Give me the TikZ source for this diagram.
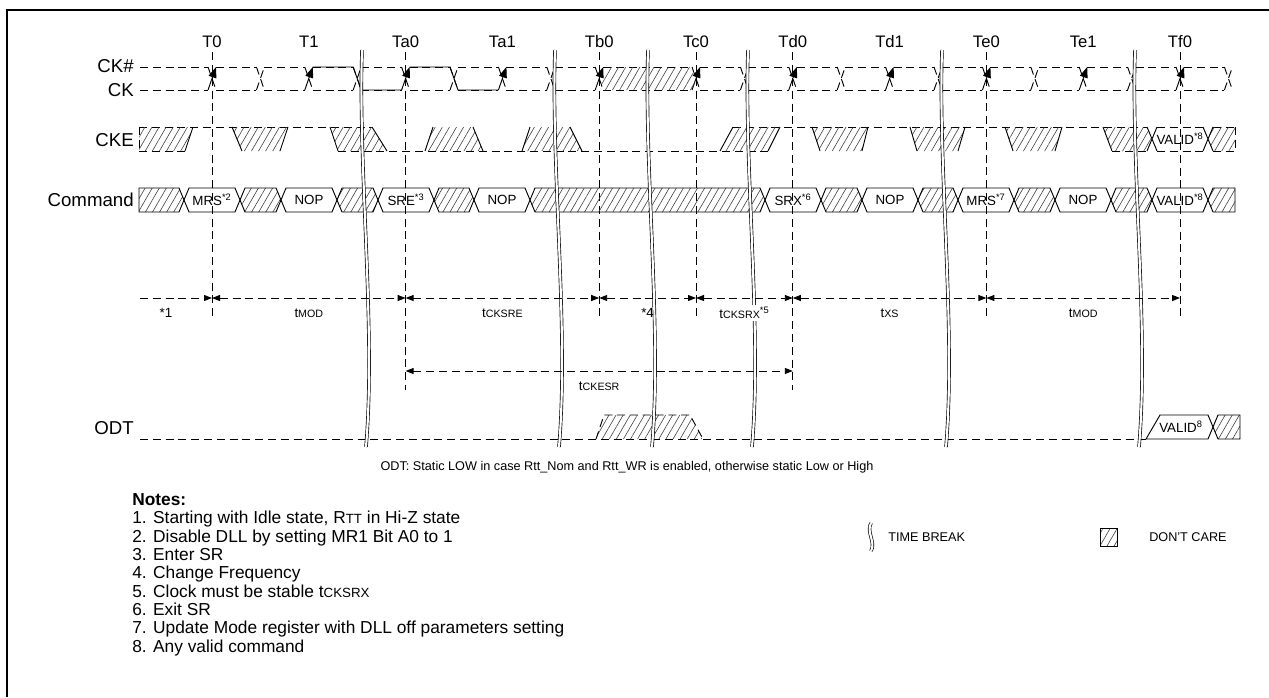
\documentclass[tikz,border=0pt]{standalone}
\usepackage{fontspec}
\setmainfont{Liberation Sans}
\usetikzlibrary{positioning,arrows.meta,patterns.meta}

\tikzstyle{wave} = [line width=0.7pt, dash pattern=on 6pt off 3.6pt]
\tikzstyle{edgeln} = [line width=0.7pt]
\tikzstyle{hatch} = [pattern={Lines[angle=60,distance=4.6pt,line width=0.45pt]}, pattern color=black!75]
\tikzstyle{guide} = [line width=0.7pt, dash pattern=on 6pt off 3.6pt]
\tikzstyle{dimline} = [line width=0.7pt, dash pattern=on 6pt off 3.6pt]
\tikzstyle{tbreak} = [line width=0.5pt, double, double distance=1.6pt]
\tikzstyle{timelbl} = [inner sep=0pt, font=\fontsize{12.5}{14}\selectfont]
\tikzstyle{siglbl} = [inner sep=0pt, anchor=east, font=\fontsize{14}{16}\selectfont]
\tikzstyle{celltxt} = [inner sep=0pt, font=\fontsize{10}{12}\selectfont]
\tikzstyle{dimtxt} = [inner sep=1.5pt, font=\fontsize{10}{12}\selectfont]
\tikzstyle{notetxt} = [inner sep=0pt, anchor=north west, text height=9.5pt, text depth=3pt, font=\fontsize{13}{14}\selectfont]
\tikzstyle{smalltxt} = [inner sep=0pt, font=\fontsize{9.5}{11}\selectfont]

\newcommand{\tpar}[2][8]{t{\fontsize{#1}{#1}\selectfont #2}}

\begin{document}
\begin{tikzpicture}[x=0.75pt, y=-0.75pt, >={Triangle[length=6pt,width=4.5pt]}]
\useasboundingbox (0,0) rectangle (1269,697);

% frame
\draw[line width=2.2pt] (7,697) -- (7,10) -- (1269,10);

% clock edges and guides
\foreach \n/\x in {T0/212, T1/308.8, Ta0/405.6, Ta1/502.4, Tb0/599.2, Tc0/696, Td0/792.8, Td1/889.6, Te0/986.4, Te1/1083.2, Tf0/1180}
  \node[timelbl] (\n) at (\x,42) {\n};
\foreach \n/\x/\yy in {T0/212/319, Ta0/405.6/390, Tb0/599.2/319, Tc0/696/319, Td0/792.8/390, Te0/986.4/319, Tf0/1180/319} {
  \coordinate (\n-end) at (\x,\yy);
  \coordinate (\n-d) at (\x,298);
  \draw[guide, shorten <=3pt] (\n.south) -- (\n-end);
}

% signal names
\node[siglbl] (ckn) at (134,66) {CK\#};
\node[siglbl] (ck) at (134,90) {CK};
\node[siglbl] (cke) at (134,140) {CKE};
\node[siglbl] (cmd) at (134,200) {Command};
\node[siglbl] (odt) at (134,428) {ODT};

% CK# / CK
\foreach \a/\b in {140/208, 216/256.4, 264.4/304.8, 312.8/353.2, 361.2/401.6, 409.6/450, 458/498.4, 506.4/546.8, 554.8/595.2, 603.2/692, 700/740.4, 748.4/788.8, 796.8/837.2, 845.2/885.6, 893.6/934, 942/982.4, 990.4/1030.8, 1038.8/1079.2, 1087.2/1127.6, 1135.6/1176, 1184/1224.4}
  \draw[wave] (\a,67) -- (\b,67) (\a,90) -- (\b,90);
\foreach \c in {260.4, 357.2, 454, 550.8, 744.4, 841.2, 938, 1034.8, 1131.6, 1228.4}
  \draw[wave] (\c-4,67) -- (\c+4,90) (\c-4,90) -- (\c+4,67);
\foreach \c in {212, 308.8, 405.6, 502.4, 599.2, 696, 792.8, 889.6, 986.4, 1083.2, 1180} {
  \draw[wave] (\c-4,67) -- (\c+4,90);
  \draw[edgeln, -{Triangle[length=8pt,width=6pt]}] (\c-4,90) -- (\c+4,67);
}
\draw[edgeln] (312.8,67) -- (353.2,67) -- (361.2,90) -- (401.6,90) (409.6,67) -- (450,67) -- (458,90) -- (498.4,90);
\path[hatch] (601,90) -- (605,67) -- (692,67) -- (696,90) -- cycle;

% CKE
\draw[wave] (139,127) -- (372,127) (733,127) -- (1147,127) (1157,127) -- (1203,127) (1213,127) -- (1235,127);
\draw[wave] (139,151) -- (185,151) (338,151) -- (768,151) (1112,151) -- (1147,151) (1157,151) -- (1203,151) (1213,151) -- (1235,151);
\draw[wave] (139,127) -- (139,151) (1235,127) -- (1235,151);
\foreach \tl/\tr/\br/\bl in {139/193/185/139, 232/288/280/242, 330/372/387/338, 433/473/483/425, 530/570/582/522, 733/780/768/720, 812/868/862/820, 910/965/958/917, 1005/1062/1055/1013} {
  \path[hatch] (\tl,127) -- (\tr,127) -- (\br,151) -- (\bl,151) -- cycle;
  \draw[edgeln] (\tr,127) -- (\br,151);
}
\foreach \tl/\bl in {232/242, 330/338, 433/425, 530/522, 733/720, 812/820, 910/917, 1005/1013, 1103/1112}
  \draw[edgeln] (\tl,127) -- (\bl,151);
\path[hatch] (1103,127) -- (1147,127) -- (1152,139) -- (1147,151) -- (1112,151) -- cycle;
\path[hatch] (1208,139) -- (1213,127) -- (1235,127) -- (1235,151) -- (1213,151) -- cycle;
\draw[edgeln] (1147,127) -- (1157,151) (1147,151) -- (1157,127) (1203,127) -- (1213,151) (1203,151) -- (1213,127);
\node[celltxt] (ckevalid) at (1180,139) {VALID\textsuperscript{*8}};

% Command
\draw[edgeln, hatch] (139,188) -- (179,188) -- (184,200) -- (179,212) -- (139,212) -- cycle;
\foreach \a/\b in {240/281, 337/378, 434/474, 530/765, 821/862, 918/958, 1014/1055, 1111/1152}
  \draw[edgeln, hatch] (\a,200) -- (\a+5,188) -- (\b-5,188) -- (\b,200) -- (\b-5,212) -- (\a+5,212) -- cycle;
\draw[edgeln, hatch] (1208,200) -- (1213,188) -- (1235,188) -- (1235,212) -- (1213,212) -- cycle;
\foreach \a/\b/\txt [count=\i] in {184/240/MRS\textsuperscript{*2}, 281/337/NOP, 378/434/SRE\textsuperscript{*3}, 474/530/NOP, 765/821/SRX\textsuperscript{*6}, 862/918/NOP, 958/1014/MRS\textsuperscript{*7}, 1055/1111/NOP, 1152/1208/VALID\textsuperscript{*8}} {
  \draw[edgeln] (\a,200) -- (\a+5,188) -- (\b-5,188) -- (\b,200) -- (\b-5,212) -- (\a+5,212) -- cycle;
  \node[celltxt] (cmd\i) at ({(\a+\b)/2},200) {\txt};
}

% ODT
\draw[wave] (140,439) -- (1146,439);
\draw[wave, hatch] (596,439) -- (604,415) -- (690,415) -- (703,439);
\draw[edgeln] (1146,439) -- (1160,415) -- (1208,415) -- (1213,427) -- (1208,439) -- cycle;
\draw[edgeln, hatch] (1213,427) -- (1218,415) -- (1240,415) -- (1240,439) -- (1218,439) -- cycle;
\node[celltxt] (odtvalid) at (1181,427) {VALID\textsuperscript{8}};

% time breaks
\foreach \x in {362, 555, 648, 748, 942, 1135}
  \draw[tbreak] (\x,50) .. controls (\x-4,170) and (\x+14,330) .. (\x+4,447);

% timing
\coordinate (dimst) at (140,298);
\coordinate (Ta0-e) at (405.6,371);
\coordinate (Td0-e) at (792.8,371);
\draw[dimline,->] (dimst) -- (T0-d);
\draw[dimline,<->] (T0-d) -- (Ta0-d);
\draw[dimline,<->] (Ta0-d) -- (Tb0-d);
\draw[dimline,<->] (Tb0-d) -- (Tc0-d);
\draw[dimline,<->] (Tc0-d) -- (Td0-d);
\draw[dimline,<->] (Td0-d) -- (Te0-d);
\draw[dimline,<->] (Te0-d) -- (Tf0-d);
\draw[dimline,<->] (Ta0-e) -- (Td0-e);
\node[dimtxt] (lone) at (166,313) {*1};
\node[dimtxt] (lmod) at (308.8,313) {\tpar{MOD}};
\node[dimtxt] (lcksre) at (502.4,313) {\tpar{CKSRE}};
\node[dimtxt] (lfour) at (647.6,313) {*4};
\node[dimtxt, fill=white] (lcksrx) at (744.4,313) {\tpar{CKSRX}\textsuperscript{*5}};
\node[dimtxt] (lxs) at (889.6,313) {\tpar{XS}};
\node[dimtxt] (lmodb) at (1083.2,313) {\tpar{MOD}};
\node[dimtxt] (lckesr) at (599.2,386) {\tpar{CKESR}};

% notes
\node[smalltxt] (odtnote) at (627,467) {ODT: Static LOW in case Rtt\_Nom and Rtt\_WR is enabled, otherwise static Low or High};
\node[notetxt, anchor=west, font=\bfseries\fontsize{13}{14}\selectfont] (notes) at (132,501) {Notes:};
\node[notetxt] (n1) [below=0.85pt of notes.south west, anchor=north west] {1. Starting with Idle state, R{\fontsize{10}{10}\selectfont TT} in Hi-Z state};
\node[notetxt] (n2) [below=0.85pt of n1.south west, anchor=north west] {2. Disable DLL by setting MR1 Bit A0 to 1};
\node[notetxt] (n3) [below=0.85pt of n2.south west, anchor=north west] {3. Enter SR};
\node[notetxt] (n4) [below=0.85pt of n3.south west, anchor=north west] {4. Change Frequency};
\node[notetxt] (n5) [below=0.85pt of n4.south west, anchor=north west] {5. Clock must be stable \tpar[10]{CKSRX}};
\node[notetxt] (n6) [below=0.85pt of n5.south west, anchor=north west] {6. Exit SR};
\node[notetxt] (n7) [below=0.85pt of n6.south west, anchor=north west] {7. Update Mode register with DLL off parameters setting};
\node[notetxt] (n8) [below=0.85pt of n7.south west, anchor=north west] {8. Any valid command};

% legend
\draw[tbreak] (871,523) .. controls (866,532) and (876,542) .. (871,551);
\node[smalltxt, anchor=west] (tblbl) at (888,537) {TIME BREAK};
\draw[edgeln, hatch] (1100,528) rectangle (1117,546);
\coordinate (dcbox) at (1117,537);
\node[smalltxt, anchor=west] (dclbl) [right=24pt of dcbox] {DON'T CARE};
\end{tikzpicture}
\end{document}
